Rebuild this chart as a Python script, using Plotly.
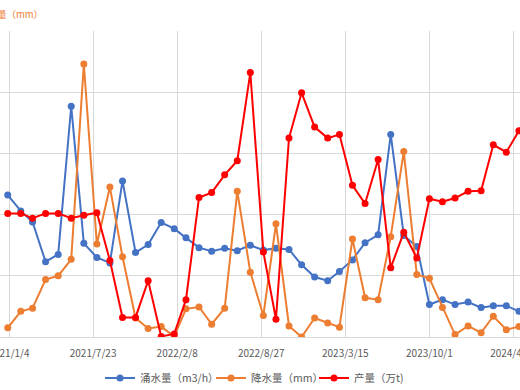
import plotly.graph_objects as go

dates = [
    "2021-01-01", "2021-02-01", "2021-03-01", "2021-04-01", "2021-05-01", "2021-06-01",
    "2021-07-01", "2021-08-01", "2021-09-01", "2021-10-01", "2021-11-01", "2021-12-01",
    "2022-01-01", "2022-02-01", "2022-03-01", "2022-04-01", "2022-05-01", "2022-06-01",
    "2022-07-01", "2022-08-01", "2022-09-01", "2022-10-01", "2022-11-01", "2022-12-01",
    "2023-01-01", "2023-02-01", "2023-03-01", "2023-04-01", "2023-05-01", "2023-06-01",
    "2023-07-01", "2023-08-01", "2023-09-01", "2023-10-01", "2023-11-01", "2023-12-01",
    "2024-01-01", "2024-02-01", "2024-03-01", "2024-04-01", "2024-05-01",
]

inflow = [232, 206, 188, 123, 135, 377, 153, 130, 121, 255,
          138, 151, 187, 177, 162, 146, 140, 145, 141, 150,
          142, 145, 143, 118, 98, 92, 107, 126, 154, 167,
          331, 166, 148, 53, 61, 53, 57, 48, 51, 51, 42]

rain = [7.5, 21, 23.5, 47, 50, 63.5, 223, 76, 122.5, 65.5,
        15.5, 7, 8.5, 0.5, 23, 24.5, 10.5, 23.5, 119, 53,
        17.5, 92.5, 9, 0, 15.5, 11.5, 8, 80, 32, 30.5,
        82, 151.5, 51, 48, 24, 2, 9, 3.5, 17, 6, 8.5]

output = [10.1, 10.1, 9.7, 10.1, 10.1, 9.7, 9.95, 10.15, 6.25, 1.6,
          1.6, 4.6, 0.05, 0.25, 3.05, 11.4, 11.8, 13.25, 14.4, 21.6,
          6.95, 1.45, 16.25, 19.95, 17.15, 16.25, 16.55, 12.4, 10.9, 14.5,
          5.65, 8.55, 6.45, 11.3, 11.05, 11.35, 11.9, 11.95, 15.7, 15.1, 16.85]

tick_vals = ["2021-01-04", "2021-07-23", "2022-02-08", "2022-08-27",
             "2023-03-15", "2023-10-01", "2024-04-18"]
tick_text = ["2021/1/4", "2021/7/23", "2022/2/8", "2022/8/27",
             "2023/3/15", "2023/10/1", "2024/4/18"]

names = ["涌水量（m3/h）", "降水量（mm）", "产量（万t)"]
colors = ["#4472C4", "#ED7D31", "#FF0000"]

FONT = "Noto Sans CJK SC"
W, H = 520, 390

fig = go.Figure()
for vals, name, col, ax, lg in zip([inflow, rain, output], names, colors,
                                   ["y", "y2", "y3"], ["legend", "legend2", "legend3"]):
    fig.add_trace(go.Scatter(
        x=dates, y=vals, name=name, yaxis=ax, mode="lines+markers", legend=lg,
        line=dict(color=col, width=2),
        marker=dict(color=col, size=7, symbol="circle"),
    ))

def legend_at(px):
    return dict(orientation="h", x=px / W, xanchor="left", y=-0.134, yanchor="middle",
                font=dict(family=FONT, size=10.5, color="#595959"),
                itemwidth=30, bgcolor="rgba(0,0,0,0)", borderwidth=0)

fig.update_layout(
    template="none",
    width=W, height=H,
    margin=dict(l=0, r=0, t=31, b=53, autoexpand=False),
    paper_bgcolor="white", plot_bgcolor="white",
    font=dict(family=FONT, size=10, color="#595959"),
    showlegend=True,
    legend=legend_at(100),
    legend2=legend_at(211),
    legend3=legend_at(314),
    xaxis=dict(
        type="date",
        range=["2020-12-13 14:00", "2024-05-03 12:00"],
        tickvals=tick_vals, ticktext=tick_text,
        showgrid=True, gridcolor="#d9d9d9", gridwidth=1,
        showline=True, linecolor="#d9d9d9", linewidth=1,
        ticks="", zeroline=False, automargin=False,
        ticklabeloverflow="allow", ticklabelstandoff=7,
        tickfont=dict(family=FONT, size=10, color="#595959"),
    ),
    yaxis=dict(range=[0, 500], dtick=100, showgrid=True, gridcolor="#d9d9d9", gridwidth=1,
               showticklabels=False, zeroline=False, showline=False, ticks="", automargin=False),
    yaxis2=dict(range=[0, 250], dtick=50, overlaying="y", side="right", showgrid=False,
                showticklabels=False, zeroline=False, showline=False, ticks="", automargin=False),
    yaxis3=dict(range=[0, 25], dtick=5, overlaying="y", side="right", showgrid=False,
                showticklabels=False, zeroline=False, showline=False, ticks="", automargin=False),
    annotations=[dict(
        text="降水量（mm）", xref="paper", yref="paper", x=45 / W, y=1.056,
        xanchor="right", yanchor="middle", showarrow=False,
        font=dict(family=FONT, size=9.5, color="#ED7D31"),
    )],
)

fig.write_html("out.html", config={"displayModeBar": False},
               post_script="document.body.style.margin='0';document.body.style.overflow='hidden';")
